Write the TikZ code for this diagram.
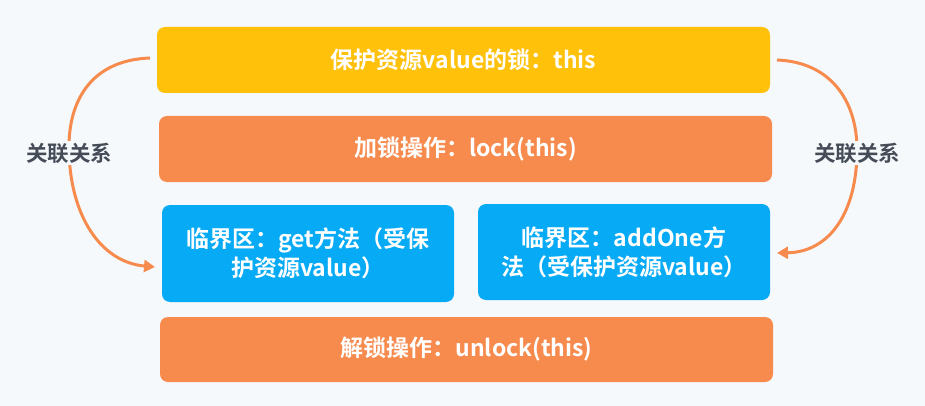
\documentclass[tikz,border=0pt]{standalone}
\usepackage{fontspec}
\setmainfont{Noto Sans CJK SC}[BoldFont={* Bold}]
\usetikzlibrary{arrows.meta}
\definecolor{bgc}{HTML}{F5F9FC}
\definecolor{yel}{HTML}{FFC10A}
\definecolor{org}{HTML}{F78B4E}
\definecolor{blu}{HTML}{07AAF5}
\definecolor{lbl}{HTML}{454C58}
\tikzset{
  boxs/.style={rounded corners=8pt,text=white,font=\bfseries\fontsize{23}{29}\selectfont},
  arr/.style={draw=org,line width=3pt,-{Triangle[length=11pt,width=12pt]}},
  lab/.style={fill=bgc,text=lbl,font=\bfseries\fontsize{21.5}{25}\selectfont,inner sep=2pt}
}
\begin{document}
\begin{tikzpicture}[x=1pt,y=-1pt]
\fill[bgc] (0,0) rectangle (925,406);
\useasboundingbox (0,0) rectangle (925,406);
\fill[yel,rounded corners=8pt] (157,27) rectangle (770,93);
\node[boxs] (top) at (463.5,60) {保护资源value的锁：this};
\fill[org,rounded corners=8pt] (159,116) rectangle (772,182);
\node[boxs] (lock) at (465.5,149) {加锁操作：lock(this)};
\fill[blu,rounded corners=8pt] (162,205) rectangle (454,302);
\node[boxs,align=center] (crit1) at (308,253.5) {临界区：get方法（受保\\护资源value）};
\fill[blu,rounded corners=8pt] (478,204) rectangle (770,300);
\node[boxs,align=center] (crit2) at (624,252) {临界区：addOne方\\法（受保护资源value）};
\fill[org,rounded corners=8pt] (160,317) rectangle (773,382);
\node[boxs] (unlock) at (466.5,349.5) {解锁操作：unlock(this)};
\coordinate (ls) at (150,58);
\coordinate (lm) at (69,150);
\coordinate (le) at (155,267);
\coordinate (rs) at (777,60);
\coordinate (rm) at (857,150);
\coordinate (re) at (777,253);
\draw[arr] (ls) .. controls (92,60) and (68,100) .. (lm) .. controls (70,215) and (100,262) .. (le);
\draw[arr] (rs) .. controls (830,62) and (857,100) .. (rm) .. controls (857,212) and (830,252) .. (re);
\node[lab] (l1) at (69,153) {关联关系};
\node[lab] (l2) at (857,153) {关联关系};
\end{tikzpicture}
\end{document}
